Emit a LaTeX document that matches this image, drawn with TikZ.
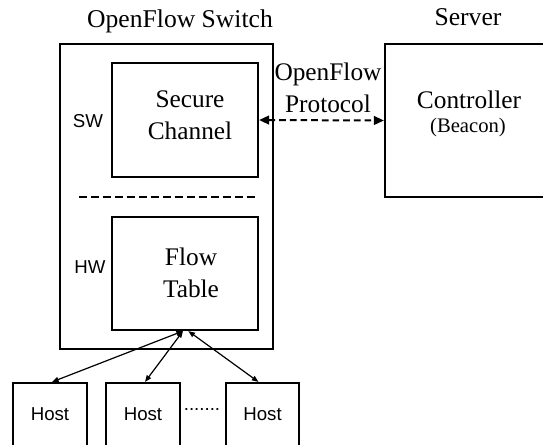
\documentclass[tikz,border=0pt]{standalone}
\usepackage{fontspec}
\setmainfont{Liberation Serif}
\setsansfont{Liberation Sans}
\usetikzlibrary{arrows.meta}
\begin{document}
\begin{tikzpicture}[x=0.75pt,y=-0.75pt,
  box/.style={draw, line width=1.6pt, inner sep=0pt},
  serif/.style={font=\fontsize{19}{24}\selectfont, align=center, inner sep=0pt},
  sanslbl/.style={font=\sffamily\fontsize{14}{16}\selectfont, inner sep=0pt},
  proto/.style={line width=1.5pt, dash pattern=on 5pt off 3pt,
    {Triangle[length=7.5pt,width=6.5pt]}-{Triangle[length=7.5pt,width=6.5pt]}},
  link/.style={line width=0.9pt,
    {Triangle[length=5pt,width=3.8pt]}-{Triangle[length=5pt,width=3.8pt]}},
  divider/.style={line width=1.7pt, dash pattern=on 6pt off 3pt}]
\useasboundingbox (0,0) rectangle (543,444);
\clip (0,0) rectangle (543,444);
% titles
\node[font=\fontsize{19.2}{22}\selectfont, anchor=base, inner sep=0pt] (t1) at (180,27) {OpenFlow Switch};
\node[font=\fontsize{19.2}{22}\selectfont, anchor=base, inner sep=0pt] (t2) at (468,25) {Server};
% switch
\node[box, minimum width=159.75pt, minimum height=228.75pt] (outer) at (166.5,196.5) {};
\node[box, minimum width=109.5pt, minimum height=85.5pt] (secure) at (185,120) {};
\node[serif] (sctext) at (190,115) {Secure\\Channel};
\node[box, minimum width=109.5pt, minimum height=84.75pt] (flow) at (185,273.5) {};
\node[serif] (fttext) at (191,272.5) {Flow\\Table};
\node[sanslbl] (sw) at (88,121) {SW};
\node[sanslbl] (hw) at (90,267) {HW};
\coordinate (divL) at (79,197);
\coordinate (divR) at (258,197);
\draw[divider] (divL) -- (divR);
% controller
\node[box, minimum width=123.75pt, minimum height=114.75pt] (controller) at (467.5,120.5) {};
\node[font=\fontsize{19}{24}\selectfont, anchor=base, inner sep=0pt] (ctext) at (469,108) {Controller};
\node[font=\fontsize{15.5}{20}\selectfont, anchor=base, inner sep=0pt] (btext) at (468,132) {(Beacon)};
\node[serif] (ptext) at (328,88) {OpenFlow\\Protocol};
\draw[proto] (secure.east) -- (controller.west);
% hosts
\node[box, sanslbl, minimum width=55.5pt, minimum height=47.25pt] (h1) at (50,414.5) {Host};
\node[box, sanslbl, minimum width=55.5pt, minimum height=47.25pt] (h2) at (143,414.5) {Host};
\node[box, sanslbl, minimum width=54.75pt, minimum height=47.25pt] (h3) at (262.5,414.5) {Host};
\node[sanslbl, anchor=base] (dots) at (202,410) {.......};
\draw[link] ([xshift=-1.5pt]flow.south) -- ([xshift=1.5pt]h1.north);
\draw[link] ([xshift=-1.5pt]flow.south) -- ([xshift=1.5pt]h2.north);
\draw[link] ([xshift=2.5pt]flow.south) -- ([xshift=-3pt]h3.north);
\end{tikzpicture}
\end{document}
